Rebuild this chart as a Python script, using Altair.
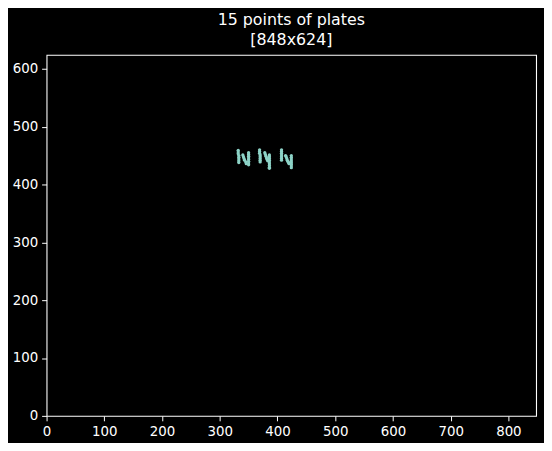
import altair as alt
import pandas as pd

# points, grouped by stroke
xs1 = [332, 332, 332, 333, 333, 333, 333, 333]
ys1 = [459, 456, 453, 450, 447, 444, 441, 438]
xs2 = [340, 341, 342, 343, 345, 346]
ys2 = [451, 448, 445, 442, 439, 436]
xs3 = [350, 350, 350, 350, 350, 350, 350, 350]
ys3 = [455, 452, 449, 446, 443, 440, 437, 434]
xs4 = [369, 369, 369, 370, 370, 370, 370, 370]
ys4 = [460, 457, 454, 451, 448, 445, 442, 439]
xs5 = [378, 379, 380, 381, 382, 383]
ys5 = [455, 452, 449, 446, 443, 441]
xs6 = [386, 386, 386, 386, 386, 386, 386, 386, 386]
ys6 = [451, 448, 445, 442, 439, 436, 433, 430, 428]
xs7 = [407, 407, 407, 407, 407, 407, 407]
ys7 = [460, 457, 454, 451, 448, 445, 442]
xs8 = [414, 415, 416, 417, 418, 419, 420]
ys8 = [450, 448, 445, 442, 440, 438, 436]
xs9 = [424, 424, 424, 424, 424, 424, 424, 424]
ys9 = [450, 447, 444, 441, 438, 435, 432, 429]

x_ticks = [0, 100, 200, 300, 400, 500, 600, 700, 800]
y_ticks = [0, 100, 200, 300, 400, 500, 600]

xs = xs1 + xs2 + xs3 + xs4 + xs5 + xs6 + xs7 + xs8 + xs9
ys = ys1 + ys2 + ys3 + ys4 + ys5 + ys6 + ys7 + ys8 + ys9
df = pd.DataFrame({"x": xs, "y": ys})

axis_common = dict(
    grid=False, domain=False, tickColor="white", tickWidth=1, tickSize=5,
    labelColor="white", labelFont="DejaVu Sans", labelFontSize=13.5,
    labelPadding=4, title=None,
)

chart = alt.Chart(df).mark_circle(size=11, color="#8dd3c7", opacity=1).encode(
    x=alt.X("x:Q", scale=alt.Scale(domain=[0, 848], nice=False, zero=False),
            axis=alt.Axis(values=x_ticks, labelFlush=False, **axis_common)),
    y=alt.Y("y:Q", scale=alt.Scale(domain=[0, 624], nice=False, zero=False),
            axis=alt.Axis(values=y_ticks, labelFlush=False, **axis_common)),
).properties(
    width=495, height=365,
    title=alt.TitleParams(["15 points of plates", "[848x624]"], color="white",
                          font="DejaVu Sans", fontSize=16, fontWeight="normal",
                          lineHeight=20, offset=7, anchor="middle"),
    background="black",
    padding={"left": 39, "top": 45, "right": 8, "bottom": 25},
    autosize=alt.AutoSizeParams(type="none"),
).configure_view(stroke="white", strokeWidth=1.1)

chart.save("out.html", embed_options={"renderer": "svg", "actions": False})
